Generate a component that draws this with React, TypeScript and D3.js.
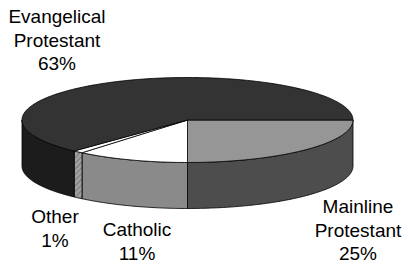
import React from "react";
import * as d3 from "d3";

const categories = ["Mainline Protestant", "Catholic", "Other", "Evangelical Protestant"];
const values = [25, 11, 1, 63];
const labelLines = [
  ["Mainline", "Protestant", "25%"],
  ["Catholic", "11%"],
  ["Other", "1%"],
  ["Evangelical", "Protestant", "63%"],
];
const topColors = ["#969696", "#ffffff", "#ffffff", "#333333"];
const sideColors = ["#4d4d4d", "#8a8a8a", "url(#hatch)", "#1c1c1c"];

const width = 409;
const height = 267;
const cx = 187.5;
const cy = 120;
const rx = 165.5;
const ry = 42.5;
const depth = 46;

// label anchors (centre of first line)
const labelPos = [
  [358, 213],
  [137, 236],
  [55, 223],
  [57, 23],
];

const pt = (a: number, dy = 0): [number, number] => [cx + rx * Math.sin(a), cy - ry * Math.cos(a) + dy];

const arcPoints = (a0: number, a1: number, dy = 0) => {
  const n = Math.max(2, Math.ceil(Math.abs(a1 - a0) / 0.02));
  return d3.range(n + 1).map((i) => pt(a0 + ((a1 - a0) * i) / n, dy));
};

const line = d3.line();

export default function App() {
  const pie = d3
    .pie<number>()
    .sort(null)
    .value((d) => d)
    .startAngle(Math.PI / 2)
    .endAngle(Math.PI / 2 + 2 * Math.PI);
  const slices = pie(values);

  const tops = slices.map((s) => {
    const pts: [number, number][] = [[cx, cy], ...arcPoints(s.startAngle, s.endAngle)];
    return line(pts) + "Z";
  });

  // visible side walls: front half, angles between PI/2 and 3PI/2
  const sides = slices.map((s) => {
    const a0 = Math.max(s.startAngle, Math.PI / 2);
    const a1 = Math.min(s.endAngle, (3 * Math.PI) / 2);
    if (a1 <= a0) return null;
    const pts = [...arcPoints(a0, a1), ...arcPoints(a1, a0, depth)];
    return line(pts) + "Z";
  });

  return (
    <svg
      width={width}
      height={height}
      style={{ position: "absolute", left: 0, top: 0, background: "#fff" }}
      fontFamily="Arial, 'Liberation Sans', sans-serif"
    >
      <defs>
        <pattern id="hatch" width="4" height="4" patternUnits="userSpaceOnUse" patternTransform="rotate(45)">
          <rect width="4" height="4" fill="#a0a0a0" />
          <line x1="0" y1="0" x2="0" y2="4" stroke="#6a6a6a" strokeWidth="1.5" />
        </pattern>
      </defs>
      {sides.map((d, i) =>
        d ? <path key={"s" + i} d={d} fill={sideColors[i]} stroke="#000" strokeWidth={0.8} /> : null
      )}
      {tops.map((d, i) => (
        <path key={"t" + i} d={d} fill={topColors[i]} stroke="#000" strokeWidth={0.8} strokeLinejoin="round" />
      ))}
      {labelLines.map((lines, i) => (
        <text key={categories[i]} x={labelPos[i][0]} y={labelPos[i][1]} textAnchor="middle" fontSize={19} fill="#000">
          {lines.map((t, j) => (
            <tspan key={j} x={labelPos[i][0]} dy={j === 0 ? 0 : 23.5}>
              {t}
            </tspan>
          ))}
        </text>
      ))}
    </svg>
  );
}
